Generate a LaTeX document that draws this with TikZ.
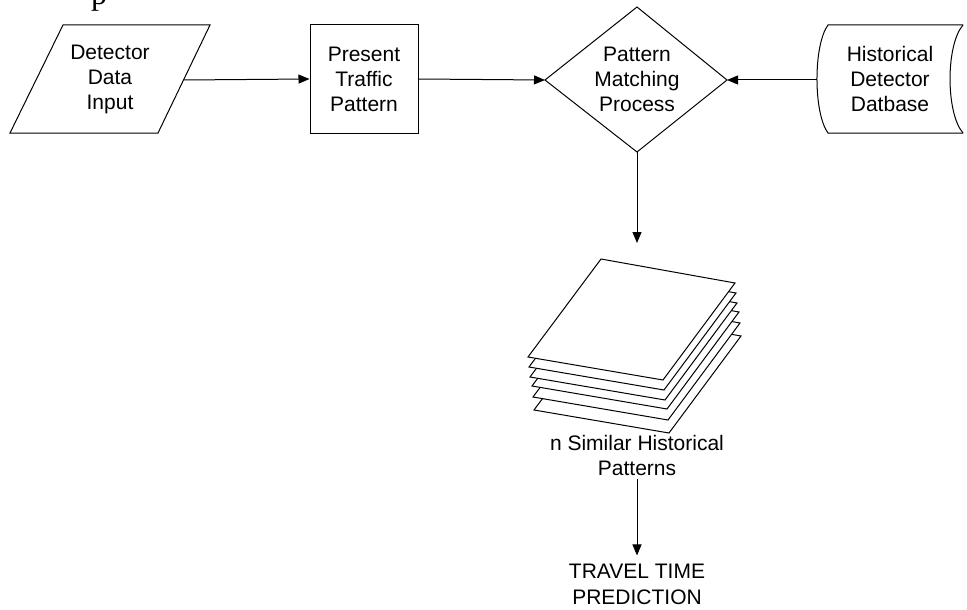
\documentclass[tikz,border=0pt]{standalone}
\usepackage{fontspec}
\setmainfont{Liberation Sans}
\newfontfamily\serifpart{Liberation Serif}
\usetikzlibrary{arrows.meta}
\tikzset{
  shape line/.style={draw=black, line width=1pt},
  txt/.style={font=\fontsize{21}{25}\selectfont, align=center, inner sep=0pt},
  arr/.style={draw=black, line width=1pt, -{Triangle[length=11pt,width=9pt]}},
  sheet/.style={draw=black, line width=1pt, fill=white}
}
\begin{document}
\begin{tikzpicture}[x=1pt,y=-1pt]
\useasboundingbox (0,0) rectangle (967,610);
% clipped page text fragment
\node[anchor=base west, inner sep=0pt, font=\serifpart\fontsize{32}{32}\selectfont] (pfrag) at (91,5) {p};

% Detector data input (parallelogram)
\draw[shape line] (63,25) -- (210,25) -- (158,133) -- (10,133) -- cycle;
\coordinate (dinE) at (183.5,80);
\node[txt] (din) at (110,79) {Detector\\Data\\Input};

% Present traffic pattern (rectangle)
\node[shape line, txt, minimum width=108pt, minimum height=108pt] (ptp) at (364,79) {Present\\Traffic\\Pattern};

% Pattern matching process (diamond)
\draw[shape line] (637,7) -- (727,80) -- (637,152) -- (545,80) -- cycle;
\coordinate (pmW) at (545,80);
\coordinate (pmE) at (727,80);
\coordinate (pmS) at (637,152);
\node[txt] (pm) at (637,79) {Pattern\\Matching\\Process};

% Historical detector database (stored data)
\draw[shape line] (963,25) -- (828,25) .. controls (813.3,45) and (813.3,113) .. (828,133) -- (963,133);
\draw[shape line] (963,25) .. controls (945.7,45) and (945.7,113) .. (963,133);
\coordinate (dbW) at (817,80);
\node[txt] (db) at (890,79) {Historical\\Detector\\Datbase};

% stack of sheets
\foreach \dx/\dy in {6/53,5/40,4/29,2/20,1/10,0/0}{
  \draw[sheet] (601+\dx,259+\dy) -- (735+\dx,283+\dy) -- (663+\dx,380+\dy) -- (528+\dx,357+\dy) -- cycle;
}
\coordinate (stackN) at (637,243);

\node[txt] (nsim) at (637,455) {n Similar Historical\\Patterns};
\node[txt, font=\fontsize{21}{26}\selectfont] (ttp) at (637,584) {TRAVEL TIME\\PREDICTION};

% connectors
\draw[arr] (dinE) -- (ptp.west);
\draw[arr] (ptp.east) -- (pmW);
\draw[arr] (dbW) -- (pmE);
\draw[arr] (pmS) -- (stackN);
\draw[arr, shorten <=4pt, shorten >=8pt] (nsim.south) -- (ttp.north);
\end{tikzpicture}
\end{document}
